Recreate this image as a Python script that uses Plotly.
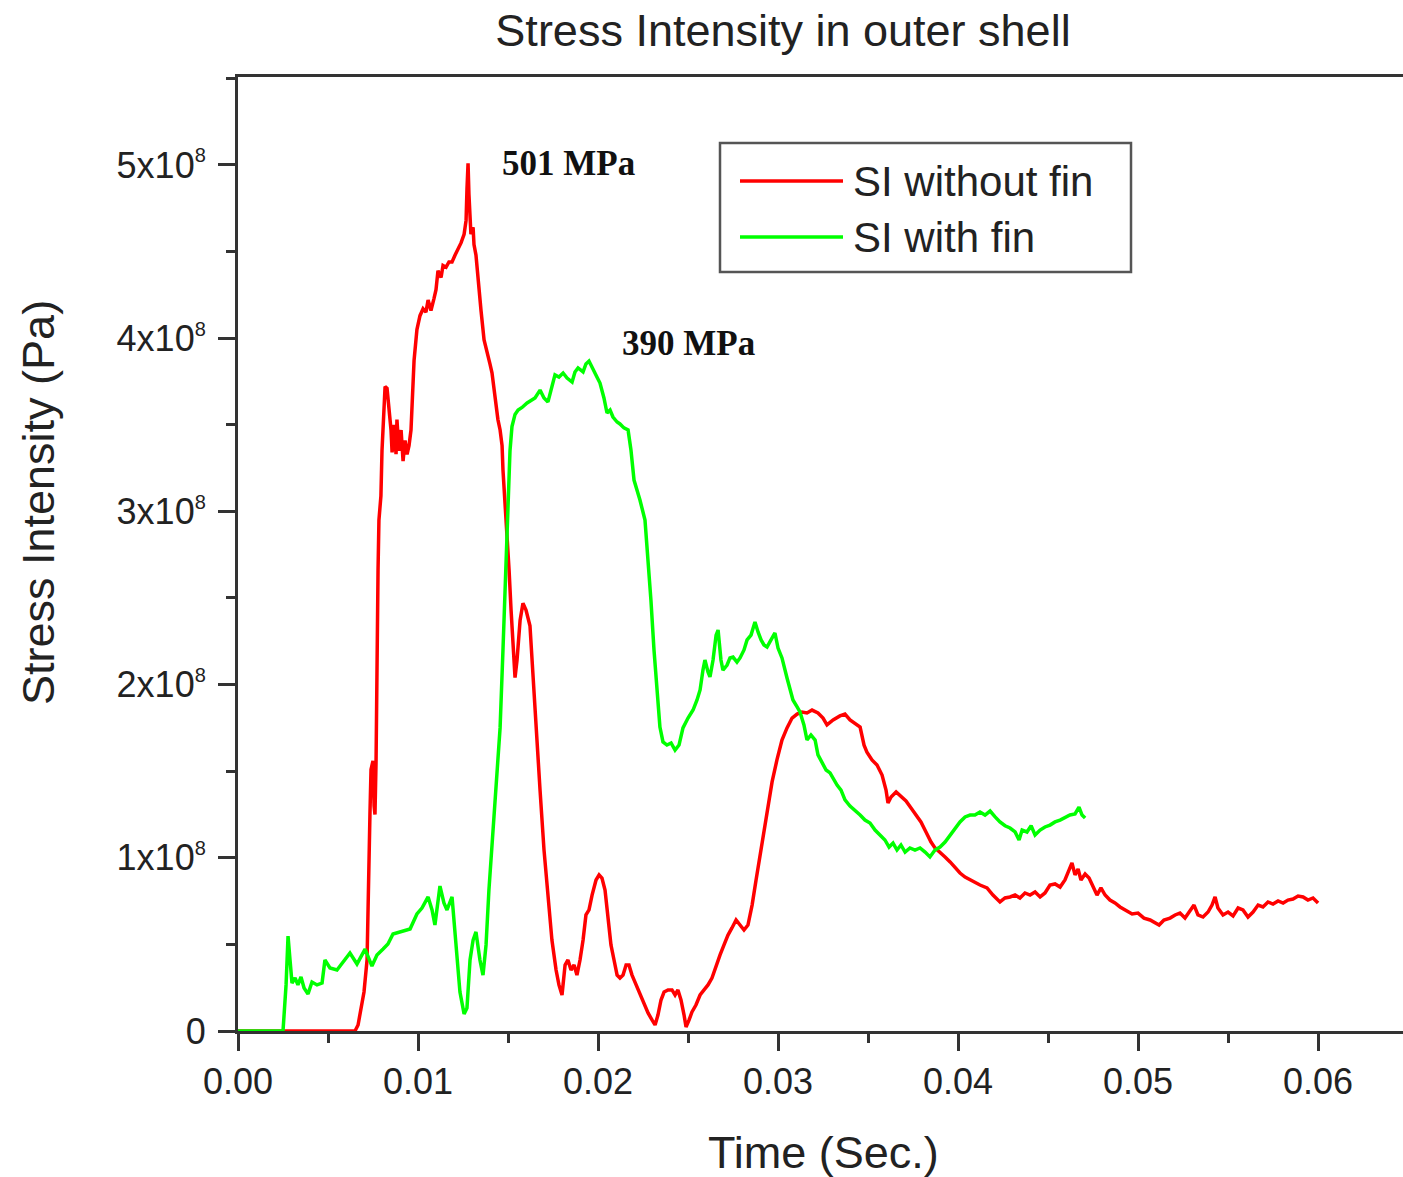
import plotly.graph_objects as go

# ---- data (time in ms, stress in MPa) ----
red_t_ms = [0, 6.50, 6.67, 6.83, 7.00, 7.17, 7.22, 7.28, 7.33, 7.39, 7.50, 7.56, 7.61, 7.67, 7.72, 7.78, 7.83, 7.94, 8.00, 8.11,
            8.17, 8.28, 8.39, 8.50, 8.56, 8.67, 8.78, 8.83, 8.94, 9.06, 9.17, 9.28, 9.39, 9.50, 9.61, 9.67, 9.78, 9.94, 10.11, 10.28,
            10.44, 10.56, 10.72, 10.89, 11.00, 11.11, 11.28, 11.39, 11.56, 11.72, 11.89, 12.06, 12.22, 12.39, 12.56, 12.67, 12.72, 12.78, 12.83, 12.89,
            12.94, 13.06, 13.11, 13.22, 13.33, 13.50, 13.67, 13.83, 14.00, 14.11, 14.22, 14.33, 14.44, 14.56, 14.67, 14.72, 14.83, 14.94, 15.06, 15.17,
            15.28, 15.39, 15.50, 15.67, 15.83, 16.00, 16.22, 16.39, 16.56, 16.78, 17.00, 17.22, 17.44, 17.67, 17.83, 18.00, 18.17, 18.33, 18.50, 18.67,
            18.83, 19.00, 19.17, 19.33, 19.50, 19.67, 19.89, 20.06, 20.22, 20.39, 20.56, 20.72, 20.89, 21.06, 21.22, 21.39, 21.56, 21.72, 21.89, 22.11,
            22.33, 22.56, 22.78, 23.00, 23.17, 23.33, 23.50, 23.67, 23.89, 24.11, 24.28, 24.44, 24.61, 24.78, 24.89, 25.06, 25.22, 25.44, 25.67, 25.89,
            26.11, 26.33, 26.56, 26.78, 27.00, 27.22, 27.44, 27.67, 27.89, 28.11, 28.33, 28.56, 28.78, 29.00, 29.22, 29.44, 29.67, 29.94, 30.22, 30.50,
            30.78, 31.06, 31.33, 31.61, 31.89, 32.22, 32.50, 32.72, 33.06, 33.44, 33.72, 34.00, 34.28, 34.56, 34.78, 34.94, 35.22, 35.50, 35.78, 36.00,
            36.11, 36.28, 36.56, 36.83, 37.11, 37.39, 37.67, 37.94, 38.22, 38.50, 38.72, 39.00, 39.28, 39.56, 39.83, 40.11, 40.39, 40.67, 40.94, 41.22,
            41.61, 41.94, 42.33, 42.61, 42.89, 43.17, 43.44, 43.72, 44.00, 44.28, 44.56, 44.83, 45.11, 45.39, 45.67, 45.94, 46.17, 46.33, 46.50, 46.67,
            46.83, 47.06, 47.28, 47.50, 47.72, 47.94, 48.17, 48.44, 48.72, 49.00, 49.33, 49.67, 50.00, 50.33, 50.67, 50.94, 51.17, 51.44, 51.78, 52.06,
            52.33, 52.61, 52.89, 53.11, 53.33, 53.61, 53.89, 54.11, 54.28, 54.44, 54.72, 55.00, 55.28, 55.56, 55.83, 56.11, 56.39, 56.67, 56.94, 57.22,
            57.50, 57.78, 58.06, 58.33, 58.61, 58.89, 59.17, 59.44, 59.72, 60.00]
red_mpa = [0, 0, 3.5, 12, 22.5, 41, 75.6, 110, 125, 151, 156, 130, 125, 156, 220, 266, 295, 309, 335, 367,
           372, 371, 361, 347, 334, 350, 333, 353, 335, 347, 329, 341, 333, 338, 347, 361, 387, 405, 413, 417,
           415, 422, 416, 423, 428, 439, 435, 442, 441, 444, 444, 448, 451, 455, 460, 468, 486, 501, 483, 465,
           460, 464, 454, 448, 434, 416, 399, 393, 385, 380, 370, 359, 353, 347, 338, 324, 307, 289, 266, 243,
           226, 204, 214, 237, 247, 243, 234, 203, 174, 139, 104.5, 75.6, 52.5, 35.2, 26.6, 20.8, 38.1, 41, 35.2, 38.1,
           32.3, 41, 52.5, 67, 69.9, 78.5, 87.2, 90.1, 88.3, 81.4, 67, 49.7, 41, 32.3, 30.6, 32.3, 38.1, 38.1, 32.3, 26.6,
           20.8, 15, 10.4, 6.4, 3.5, 9.2, 17.9, 22.5, 23.7, 23.7, 20.8, 23.7, 17.9, 9.2, 2.3, 6.4, 11, 15, 20.8, 23.7,
           26.6, 30.6, 38.1, 43.9, 49.7, 55.4, 59.5, 64.1, 61.2, 58.3, 61.2, 72.7, 87.2, 101.6, 116, 130.5, 143.8, 156.5, 168, 175,
           180.7, 183, 184.2, 183.6, 185.3, 183.6, 180.7, 176.7, 179.6, 181.9, 183, 179.6, 177.8, 175.5, 165, 161, 156.5, 153.6, 147.8, 139.1,
           131.6, 135.1, 138, 135.1, 132.8, 128.8, 124.7, 120.7, 114.9, 109.1, 105.7, 103.3, 100.5, 97.6, 94.1, 91.2, 88.9, 87.2, 85.5, 84.3,
           82.6, 78.5, 74.5, 76.8, 77.4, 78.5, 76.8, 79.7, 78.5, 80.3, 77.4, 79.7, 84.3, 84.9, 83.1, 87.2, 93, 97, 90.1, 93.5,
           87.2, 90.6, 88.3, 83.1, 78.5, 82.6, 78.5, 75.6, 73.9, 71.6, 69.9, 67.6, 68.1, 65.2, 64.1, 62.4, 61.2, 64.1, 65.2, 67,
           68.1, 65.2, 69.9, 72.7, 67, 65.8, 68.7, 72.7, 77.4, 71, 67, 68.7, 66.4, 71, 69.9, 65.8, 68.7, 72.7, 71.6, 74.5,
           73.3, 75.1, 73.9, 75.6, 76.2, 77.9, 77.4, 75.6, 76.8, 73.9]

green_t_ms = [0, 2.50, 2.67, 2.78, 2.89, 3.00, 3.17, 3.33, 3.50, 3.67, 3.89, 4.11, 4.39, 4.67, 4.83, 5.11, 5.50, 5.83, 6.22, 6.61,
              7.06, 7.44, 7.72, 8.06, 8.33, 8.61, 9.00, 9.56, 9.94, 10.22, 10.56, 10.78, 10.94, 11.22, 11.44, 11.61, 11.89, 12.11, 12.33, 12.56,
              12.72, 12.89, 13.06, 13.22, 13.44, 13.61, 13.78, 13.94, 14.11, 14.33, 14.56, 14.72, 14.83, 14.94, 15.00, 15.11, 15.22, 15.39, 15.56, 15.78,
              16.06, 16.28, 16.50, 16.78, 17.00, 17.22, 17.44, 17.61, 17.83, 18.06, 18.28, 18.56, 18.72, 18.89, 19.17, 19.33, 19.50, 19.72, 19.94, 20.11,
              20.33, 20.50, 20.67, 20.83, 21.06, 21.22, 21.44, 21.67, 21.83, 22.00, 22.33, 22.61, 22.78, 22.94, 23.11, 23.28, 23.44, 23.61, 23.83, 24.06,
              24.28, 24.50, 24.72, 25.00, 25.28, 25.50, 25.67, 25.83, 25.94, 26.11, 26.22, 26.39, 26.56, 26.67, 26.83, 26.94, 27.17, 27.33, 27.50, 27.72,
              27.89, 28.11, 28.28, 28.50, 28.72, 28.89, 29.06, 29.22, 29.39, 29.61, 29.83, 30.00, 30.22, 30.50, 30.83, 31.06, 31.22, 31.44, 31.61, 31.83,
              32.06, 32.22, 32.44, 32.67, 32.89, 33.11, 33.28, 33.50, 33.72, 34.00, 34.28, 34.56, 34.83, 35.11, 35.39, 35.67, 35.94, 36.17, 36.39, 36.61,
              36.83, 37.06, 37.33, 37.61, 37.89, 38.17, 38.44, 38.72, 39.00, 39.28, 39.56, 39.83, 40.11, 40.39, 40.67, 40.94, 41.22, 41.50, 41.78, 42.06,
              42.33, 42.61, 42.89, 43.17, 43.39, 43.56, 43.83, 44.06, 44.28, 44.56, 44.83, 45.11, 45.39, 45.67, 45.94, 46.22, 46.50, 46.72, 46.89, 47.06]
green_mpa = [0, 0, 26.6, 54.8, 41, 27.7, 30.6, 26.6, 31.2, 24.8, 21.4, 28.3, 26.6, 27.7, 41, 36.4, 35.2, 39.8, 45, 38.7,
             47.3, 37.5, 43.9, 47.3, 50.2, 56, 57.2, 58.9, 67.6, 71, 77.4, 69.9, 61.2, 83.7, 73.9, 69.9, 77.4, 52.5, 22.5, 9.8,
             13.3, 41, 52.5, 57.2, 41, 32.3, 49.7, 81.4, 107.4, 139.1, 175, 220, 255, 289, 312, 335, 349, 356, 358.5, 360,
             362.6, 364.3, 365.5, 370, 365.5, 363.2, 371.2, 378.8, 377.6, 379.9, 377, 374.7, 380.5, 382.8, 380.5, 385.1, 386.8, 381.6, 377.6, 374.1,
             365.5, 356.8, 358.5, 354.5, 351.6, 350.5, 348.2, 347, 335.5, 318.1, 306.6, 295, 272, 248.8, 220, 196.9, 175.5, 166.9, 165.1, 166.3,
             162.2, 165.1, 175, 180.7, 185.3, 191.1, 196.9, 208.4, 214.2, 207.3, 204.4, 214.2, 228.6, 231.5, 214.2, 208.4, 211.3, 215.4, 215.9, 213,
             215.4, 220, 225.8, 228.6, 236.1, 230.4, 225.8, 222.9, 221.7, 225.8, 229.8, 221.1, 215.4, 203.8, 191.1, 187.1, 184.2, 176.7, 168, 170.9,
             168, 159.4, 155.3, 150.7, 149, 144.9, 142, 139.1, 133.4, 129.9, 127.6, 124.7, 121.8, 120.1, 116, 113.2, 110.3, 106.2, 108.5, 104.5,
             107.4, 103.3, 105.7, 104.5, 105.7, 103.3, 100.5, 104.5, 106.2, 109.1, 113.2, 117.2, 120.7, 123.6, 124.7, 124.7, 126.4, 124.7, 127, 123.6,
             120.7, 118.5, 117.2, 114.9, 110.3, 116, 114.9, 118.5, 113.2, 116, 117.8, 118.9, 120.7, 121.8, 123, 124.7, 125.3, 129.3, 124.7, 123]

series_names = ["SI without fin", "SI with fin"]
series_colors = ["#ff0000", "#00ff00"]
x_ticks = [0.00, 0.01, 0.02, 0.03, 0.04, 0.05, 0.06]
x_tick_labels = ["0.00", "0.01", "0.02", "0.03", "0.04", "0.05", "0.06"]
y_ticks = [0, 1e8, 2e8, 3e8, 4e8, 5e8]
y_tick_base = ["0", "1x10", "2x10", "3x10", "4x10", "5x10"]
peak_labels = ["501 MPa", "390 MPa"]

FONT = "Liberation Sans, Arial, sans-serif"
TXT = "#222222"
AX = "#333333"

def to_s(ms):
    return [v / 1000.0 for v in ms]

def to_pa(mpa):
    return [v * 1e6 for v in mpa]

fig = go.Figure()
fig.add_trace(go.Scatter(x=to_s(red_t_ms), y=to_pa(red_mpa), mode="lines", name=series_names[0],
                         line=dict(color=series_colors[0], width=3.5), showlegend=False))
fig.add_trace(go.Scatter(x=to_s(green_t_ms), y=to_pa(green_mpa), mode="lines", name=series_names[1],
                         line=dict(color=series_colors[1], width=3.5), showlegend=False))

y_text = [b if b == "0" else b + "<sup><span style='font-size:20px'>8</span></sup>" for b in y_tick_base]

fig.update_xaxes(range=[0, 0.06472], tickvals=x_ticks, ticktext=x_tick_labels,
                 showline=True, linecolor=AX, linewidth=3, mirror=True,
                 ticks="outside", ticklen=17, tickwidth=3, tickcolor=AX,
                 minor=dict(ticks="outside", ticklen=9, tickwidth=3, tickcolor=AX, dtick=0.005, tick0=0, showgrid=False),
                 showgrid=False, zeroline=False, layer="below traces",
                 tickfont=dict(family=FONT, size=36, color=TXT), ticklabelstandoff=0)
fig.update_yaxes(range=[0, 5.508e8], tickvals=y_ticks, ticktext=y_text,
                 showline=True, linecolor=AX, linewidth=3, mirror=False,
                 ticks="outside", ticklen=17, tickwidth=3, tickcolor=AX,
                 minor=dict(ticks="outside", ticklen=9, tickwidth=3, tickcolor=AX, dtick=0.5e8, tick0=0, showgrid=False),
                 showgrid=False, zeroline=False, layer="below traces",
                 tickfont=dict(family=FONT, size=36, color=TXT), ticklabelstandoff=5)

W, H = 1403, 1177
L, R, T, B = 238, 0, 77, 146
pw, ph = W - L - R, H - T - B

def px(x):
    return (x - L) / pw

def py(y):
    return (H - B - y) / ph

SERIF = "Liberation Serif, Times New Roman, serif"
annotations = [
    dict(text="Time (Sec.)", xref="paper", yref="paper", x=px(823), y=py(1152), showarrow=False,
         xanchor="center", yanchor="middle", font=dict(family=FONT, size=45, color=TXT)),
    dict(text="Stress Intensity (Pa)", xref="paper", yref="paper", x=px(38), y=py(503), showarrow=False,
         textangle=-90, xanchor="center", yanchor="middle", font=dict(family=FONT, size=45, color=TXT)),
    dict(text=peak_labels[0], xref="x", yref="y", x=0.01456, y=5.01e8, showarrow=False,
         xanchor="left", yanchor="middle", font=dict(family=SERIF, size=35, color="#111111", weight="bold")),
    dict(text=peak_labels[1], xref="x", yref="y", x=0.02122, y=3.97e8, showarrow=False,
         xanchor="left", yanchor="middle", font=dict(family=SERIF, size=35, color="#111111", weight="bold")),
    dict(text=series_names[0], xref="paper", yref="paper", x=px(851), y=py(181), showarrow=False,
         xanchor="left", yanchor="middle", font=dict(family=FONT, size=42, color=TXT)),
    dict(text=series_names[1], xref="paper", yref="paper", x=px(851), y=py(237), showarrow=False,
         xanchor="left", yanchor="middle", font=dict(family=FONT, size=42, color=TXT)),
]

shapes = [
    dict(type="rect", xref="paper", yref="paper", x0=px(720), x1=px(1131), y0=py(272), y1=py(143),
         line=dict(color="#555555", width=2.5), fillcolor="rgba(0,0,0,0)"),
    dict(type="line", xref="paper", yref="paper", x0=px(740), x1=px(843), y0=py(181), y1=py(181),
         line=dict(color=series_colors[0], width=3.5)),
    dict(type="line", xref="paper", yref="paper", x0=px(740), x1=px(843), y0=py(237), y1=py(237),
         line=dict(color=series_colors[1], width=3.5)),
]

fig.update_layout(
    width=W, height=H,
    margin=dict(l=L, r=R, t=T, b=B, pad=0),
    paper_bgcolor="white", plot_bgcolor="white",
    title=dict(text="Stress Intensity in outer shell", x=px(783), xref="paper", xanchor="center",
               y=1 - 30 / H, yref="container", yanchor="middle",
               font=dict(family=FONT, size=45, color=TXT)),
    annotations=annotations, shapes=shapes, showlegend=False,
)

fig.write_html("out.html", config={"displayModeBar": False},
               post_script="document.body.style.margin='0px';document.body.style.overflow='hidden';")
